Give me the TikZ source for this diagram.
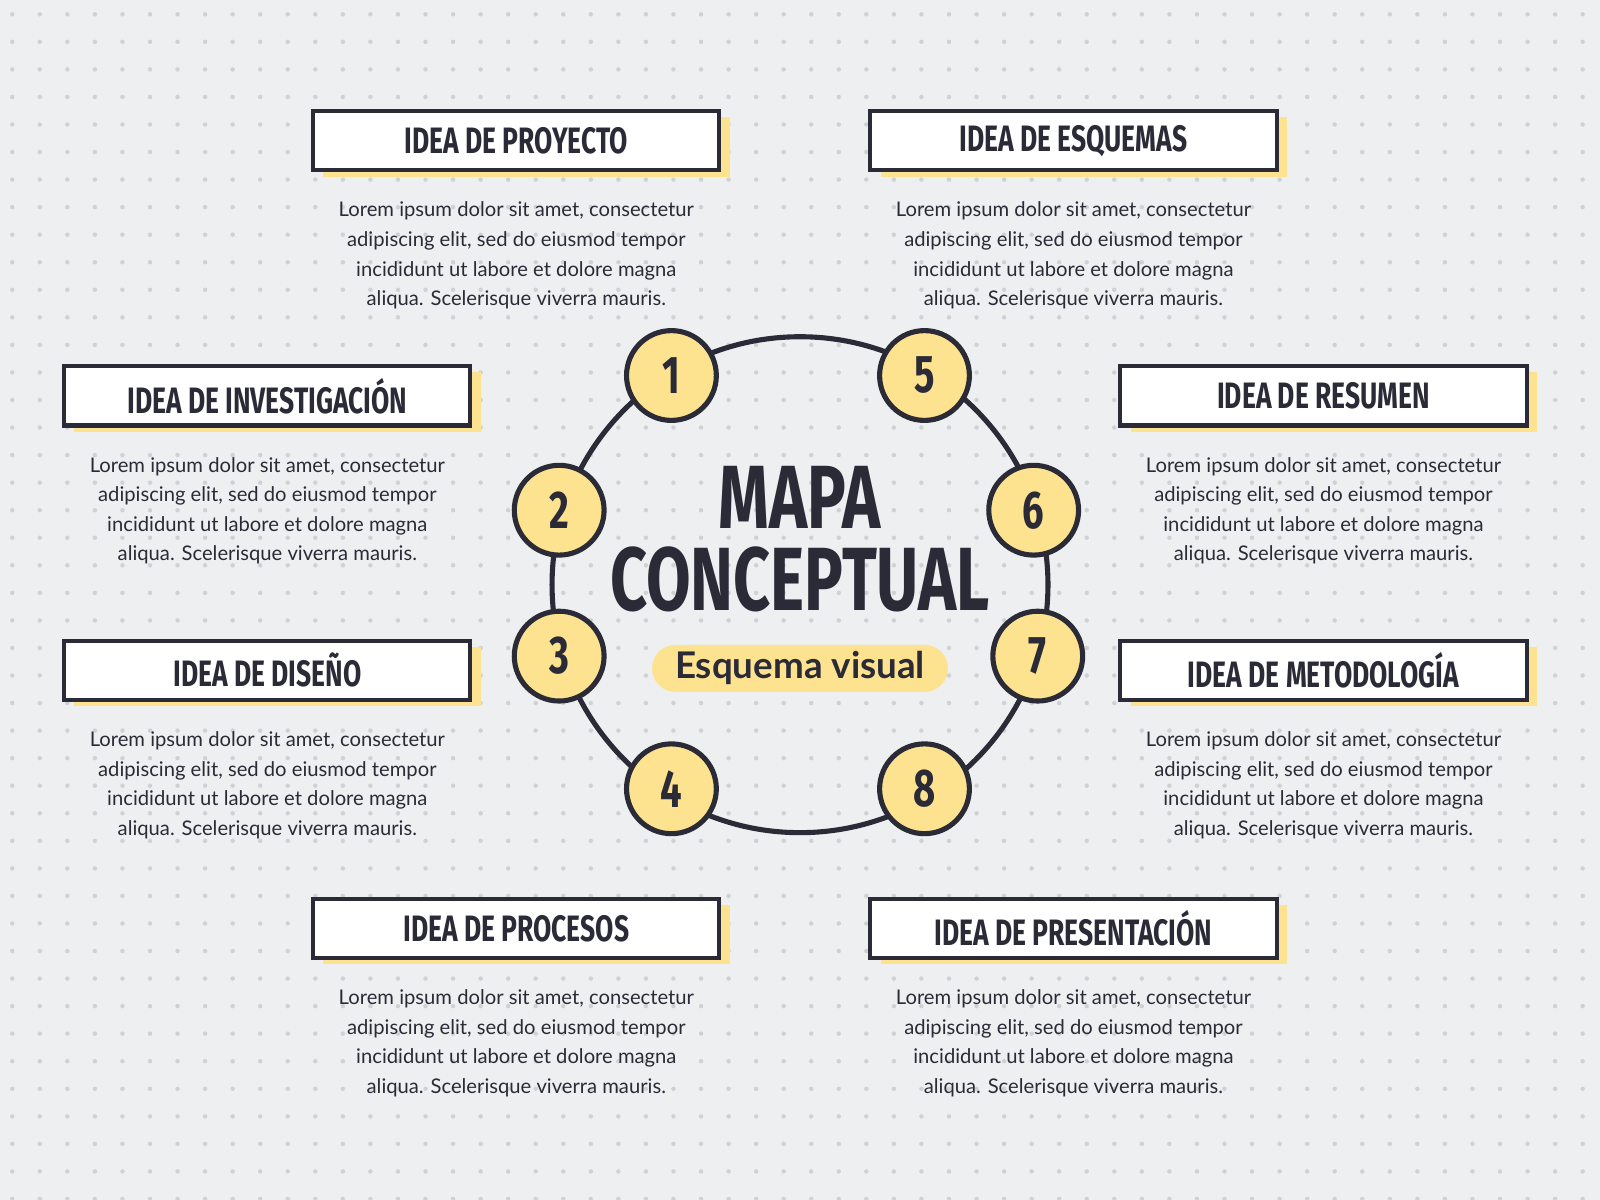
\documentclass[tikz,border=0pt]{standalone}
\usepackage{fontspec}
\setmainfont{Lato}
\newfontfamily\headfont[FakeStretch=0.72]{Fira Sans}
\usetikzlibrary{positioning}
\definecolor{ink}{HTML}{2B2B38}
\definecolor{sun}{HTML}{FDE28F}
\definecolor{paper}{HTML}{EEEFF0}
\definecolor{dot}{HTML}{D0D1D5}
\begin{document}
\begin{tikzpicture}[x=0.5pt,y=-0.5pt,
    number/.style={circle, draw=ink, line width=2.5pt, fill=sun, minimum size=44pt, inner sep=0pt, font=\headfont\bfseries\fontsize{26}{26}\selectfont, text=ink},
    header/.style={rectangle, draw=ink, line width=2pt, fill=white, minimum width=199pt, minimum height=29pt, font=\headfont\bfseries\fontsize{18}{18}\selectfont, text=ink},
    shade/.style={rectangle, fill=sun, minimum width=199pt, minimum height=29pt},
    body/.style={align=center, font=\fontsize{9.9}{14.5}\selectfont, text=ink}
]
\fill[paper] (0,0) rectangle (1568,1176);
\useasboundingbox (0,0) rectangle (1568,1176);

% dotted grid
\foreach \i in {0,...,57} \foreach \j in {0,...,43}
  \fill[dot] (12+27*\i,14+27*\j) circle (1.1pt);

% ring and numbers
\node[circle, draw=ink, line width=2.5pt, minimum size=243pt] (ring) at (784,573) {};
\foreach \n/\x/\y in {1/658/368, 5/906/368, 2/548/500, 6/1013/500,
                      3/548/643, 7/1017/643, 4/658/773, 8/906/773}
  \node[number] (num\n) at (\x,\y) {\n};

% title
\node[font=\headfont\bfseries\fontsize{44}{44}\selectfont, text=ink] (title1) at (784,487) {MAPA};
\node[font=\headfont\bfseries\fontsize{44}{44}\selectfont, text=ink] (title2) at (784,568) {CONCEPTUAL};
\node[rectangle, rounded corners=11.5pt, fill=sun, minimum width=145pt, minimum height=23pt,
      font=\bfseries\fontsize{18}{18}\selectfont, text=ink] (subtitle) at (784,655) {Esquema visual};

% ideas
\foreach \name/\x/\y/\txt in {proyecto/506/138/IDEA DE PROYECTO, esquemas/1052/138/IDEA DE ESQUEMAS,
    investigacion/262/388/IDEA DE INVESTIGACIÓN, resumen/1297/388/IDEA DE RESUMEN,
    diseno/262/657/IDEA DE DISEÑO, metodologia/1297/657/IDEA DE METODOLOGÍA,
    procesos/506/910/IDEA DE PROCESOS, presentacion/1052/910/IDEA DE PRESENTACIÓN} {
  \node[shade] at (\x+10,\y+6) {};
  \node[header] (\name) at (\x,\y) {\txt};
  \node[body, below=11pt of \name] (\name_text) {Lorem ipsum dolor sit amet, consectetur\\
    adipiscing elit, sed do eiusmod tempor\\incididunt ut labore et dolore magna\\
    aliqua. Scelerisque viverra mauris.};
}
\end{tikzpicture}
\end{document}
